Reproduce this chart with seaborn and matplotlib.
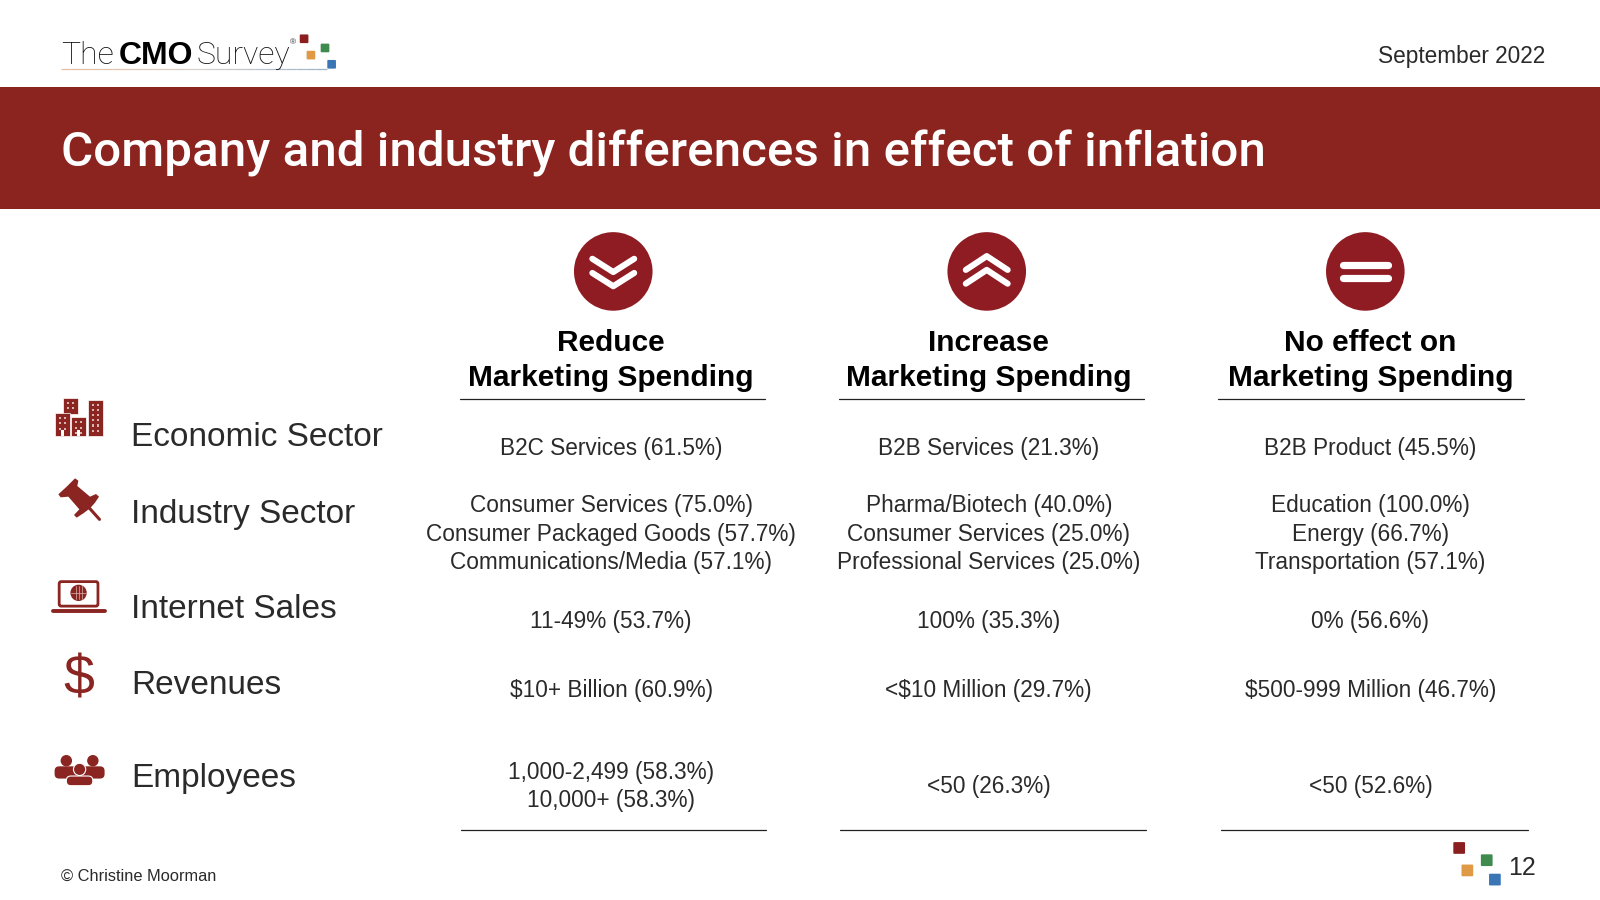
"""Company and industry differences in effect of inflation (CMO Survey slide)."""

import matplotlib.pyplot as plt
from matplotlib.patches import Circle, Ellipse, FancyBboxPatch, Polygon, Rectangle
import pandas as pd
import seaborn as sns

# Chart content
title = "Company and industry differences in effect of inflation"
date_label = "September 2022"
copyright_label = "© Christine Moorman"
page_number = "12"
row_labels = ["Economic Sector", "Industry Sector", "Internet Sales", "Revenues", "Employees"]
column_heads = [
    "Reduce\nMarketing Spending",
    "Increase\nMarketing Spending",
    "No effect on\nMarketing Spending",
]
reduce_cells = [
    "B2C Services (61.5%)",
    "Consumer Services (75.0%)\nConsumer Packaged Goods (57.7%)\nCommunications/Media (57.1%)",
    "11-49% (53.7%)",
    "$10+ Billion (60.9%)",
    "1,000-2,499 (58.3%)\n10,000+ (58.3%)",
]
increase_cells = [
    "B2B Services (21.3%)",
    "Pharma/Biotech (40.0%)\nConsumer Services (25.0%)\nProfessional Services (25.0%)",
    "100% (35.3%)",
    "<$10 Million (29.7%)",
    "<50 (26.3%)",
]
no_effect_cells = [
    "B2B Product (45.5%)",
    "Education (100.0%)\nEnergy (66.7%)\nTransportation (57.1%)",
    "0% (56.6%)",
    "$500-999 Million (46.7%)",
    "<50 (52.6%)",
]

RED = "#8b231e"
ICON = "#8a2522"
SQUARES = ["#8b1f20", "#3f8a4f", "#e09a45", "#3a76b5"]
BODY = "Liberation Sans"
THIN = "Roboto"
INK = "#2a2a2a"

# Layout is in the 1568x882 space the slide was read in
COL_X = [599, 969, 1343]
ROW_Y = [440, 523.5, 609, 677, 771]
LABEL_Y = [428.5, 504, 597.5, 671.5, 762.5]


def add_squares(ax, points, size):
    for (x, y), color in zip(points, SQUARES):
        ax.add_patch(FancyBboxPatch(
            (x - size / 2 + 1, y - size / 2 + 1), size - 2, size - 2,
            boxstyle="round,pad=1", fc=color, ec="none",
        ))


def draw_header(ax):
    ax.text(60, 62.5, "The", fontsize=23, family=THIN, weight="light", color="#111111", va="baseline")
    ax.text(116, 62.5, "CMO", fontsize=23, family=BODY, weight="bold", color="black", va="baseline")
    ax.text(193, 62.5, "Survey", fontsize=23, family=THIN, weight="light", color="#111111", va="baseline")
    ax.text(287, 42, "®", fontsize=6, color="#333333", ha="center", va="center")
    add_squares(ax, [(298, 38), (318.5, 47), (304.7, 54), (325, 63)], 8.5)

    # thin faded rule under the logo
    palette = sns.blend_palette(["#e6bd9f", "#d8d2cc", "#9fb4ca"], 26)
    for i, color in enumerate(palette):
        ax.plot([60 + i * 10, 70 + i * 10], [67.5, 67.5], color=color, lw=0.9, solid_capstyle="butt")

    ax.text(1514, 55.5, date_label, fontsize=16.3, family=BODY, color=INK, ha="right", va="center")

    ax.add_patch(Rectangle((0, 85), 1568, 120, fc=RED, ec="none"))
    ax.text(60, 150, title, fontsize=35.6, family="Roboto", weight="medium", color="white", va="center")


def draw_column_icons(ax):
    centers = [(601, 266), (967, 266), (1338, 266)]
    for x, y in centers:
        ax.add_patch(Circle((x, y), 38.5, fc="#8f1c22", ec="none"))

    x, y = centers[0]
    for top in (-12.4, 1.5):
        ax.plot([x - 20.5, x, x + 20.5], [y + top, y + top + 13, y + top], color="white",
                lw=4.4, solid_capstyle="round", solid_joinstyle="round")
    x, y = centers[1]
    for top in (-15, -1.5):
        ax.plot([x - 20.5, x, x + 20.5], [y + top + 13.5, y + top, y + top + 13.5], color="white",
                lw=4.4, solid_capstyle="round", solid_joinstyle="round")
    x, y = centers[2]
    for dy in (-6, 6):
        ax.plot([x - 22, x + 22], [y + dy, y + dy], color="white", lw=5.2, solid_capstyle="round")


def draw_buildings(ax):
    blocks = [(62, 390, 14.5, 16), (54, 405, 14.5, 22), (69.6, 409, 14.5, 18), (86, 392, 15, 35)]
    for x, y, w, h in blocks:
        ax.add_patch(Rectangle((x, y), w, h, fc=ICON, ec="white", lw=0.5))
        for wy in range(int(y) + 4, int(y + h) - 3, 5):
            for wx in (x + w * 0.33, x + w * 0.67):
                ax.add_patch(Rectangle((wx - 1, wy), 2, 2, fc="#d9b5b2", ec="none"))
        if y > 400:
            ax.add_patch(Rectangle((x + w * 0.38, y + h - 6), w * 0.24, 6, fc="white", ec="none"))


def draw_pin(ax):
    zoomed = [(55, 343), (62, 352), (85, 350), (118, 388), (102, 405), (110, 413), (130, 400),
              (150, 385), (165, 368), (177, 350), (168, 342), (150, 350), (112, 318), (115, 302),
              (105, 295), (80, 320)]
    pts = [((zx / 3 + 40) / 1.0204, (zy / 3 + 380) / 1.0204) for zx, zy in zoomed]
    ax.add_patch(Polygon(pts, closed=True, fc=ICON, ec="none"))
    ax.plot([85, 97.5], [495, 509], color=ICON, lw=2.2, solid_capstyle="round")


def draw_laptop(ax):
    ax.add_patch(FancyBboxPatch((58, 570), 38, 24, boxstyle="round,pad=0,rounding_size=2",
                                fc="white", ec=ICON, lw=2))
    ax.add_patch(Circle((77, 581), 8, fc=ICON, ec="none"))
    for dx in (-3, 0, 3):
        ax.plot([77 + dx, 77 + dx], [574.5, 587.5], color="#d9b5b2", lw=0.5)
    ax.plot([70, 84], [581, 581], color="#d9b5b2", lw=0.5)
    ax.plot([52, 103], [598.5, 598.5], color=ICON, lw=2.8, solid_capstyle="round")


def draw_people(ax):
    for x, y in [(65, 746), (91, 746)]:
        ax.add_patch(Circle((x, y - 0.5), 5.6, fc=ICON, ec="none"))
        ax.add_patch(FancyBboxPatch((x - 11.5, y + 5), 23, 12, boxstyle="round,pad=0,rounding_size=4.5",
                                    fc=ICON, ec="none"))
    ax.add_patch(Ellipse((78, 754), 12, 12, fc=ICON, ec="white", lw=0.8))
    ax.add_patch(FancyBboxPatch((65, 760.5), 26, 9.5, boxstyle="round,pad=0,rounding_size=4.5",
                                fc=ICON, ec="white", lw=0.8))


def draw_row_icons(ax):
    draw_buildings(ax)
    draw_pin(ax)
    draw_laptop(ax)
    ax.text(77.5, 667, "$", fontsize=40, family=BODY, color=ICON, ha="center", va="center")
    draw_people(ax)


def draw_table(ax):
    for label, y in zip(row_labels, LABEL_Y):
        ax.text(128.5, y, label, fontsize=24, family=BODY, color=INK, va="center")

    for head, x in zip(column_heads, COL_X):
        ax.text(x, 353.5, head, fontsize=21.5, family=BODY, weight="bold", color="black",
                ha="center", va="center", linespacing=1.32)

    for x0, x1 in [(451, 750), (822, 1121), (1194, 1494)]:
        ax.plot([x0, x1], [391, 391], color="#222222", lw=0.9)
    for x0, x1 in [(452, 751), (823, 1123), (1197, 1497)]:
        ax.plot([x0, x1], [813, 813], color="#222222", lw=0.9)

    cells = pd.DataFrame(
        {"reduce": reduce_cells, "increase": increase_cells, "no_effect": no_effect_cells},
        index=row_labels,
    )
    for col, x in zip(cells.columns, COL_X):
        for label, y in zip(row_labels, ROW_Y):
            ax.text(x, y, cells.loc[label, col], fontsize=16.25, family=BODY, color=INK,
                    ha="center", va="center", linespacing=1.29)


def draw_footer(ax):
    ax.text(60, 859, copyright_label, fontsize=11.8, family=BODY, color=INK, va="center")
    add_squares(ax, [(1430, 831), (1457, 843), (1438, 853), (1465, 862)], 11.5)
    ax.text(1492, 851, page_number, fontsize=18, family=BODY, color=INK, ha="center", va="center")


def main():
    sns.set_theme(style="white")
    plt.rcParams["font.family"] = [BODY, "DejaVu Sans"]

    fig = plt.figure(figsize=(16, 9), dpi=100, facecolor="white")
    ax = fig.add_axes([0, 0, 1, 1])
    ax.set_xlim(0, 1568)
    ax.set_ylim(882, 0)
    ax.axis("off")

    draw_header(ax)
    draw_column_icons(ax)
    draw_row_icons(ax)
    draw_table(ax)
    draw_footer(ax)

    fig.savefig("out.png", dpi=100, facecolor="white")
    plt.close(fig)


main()
